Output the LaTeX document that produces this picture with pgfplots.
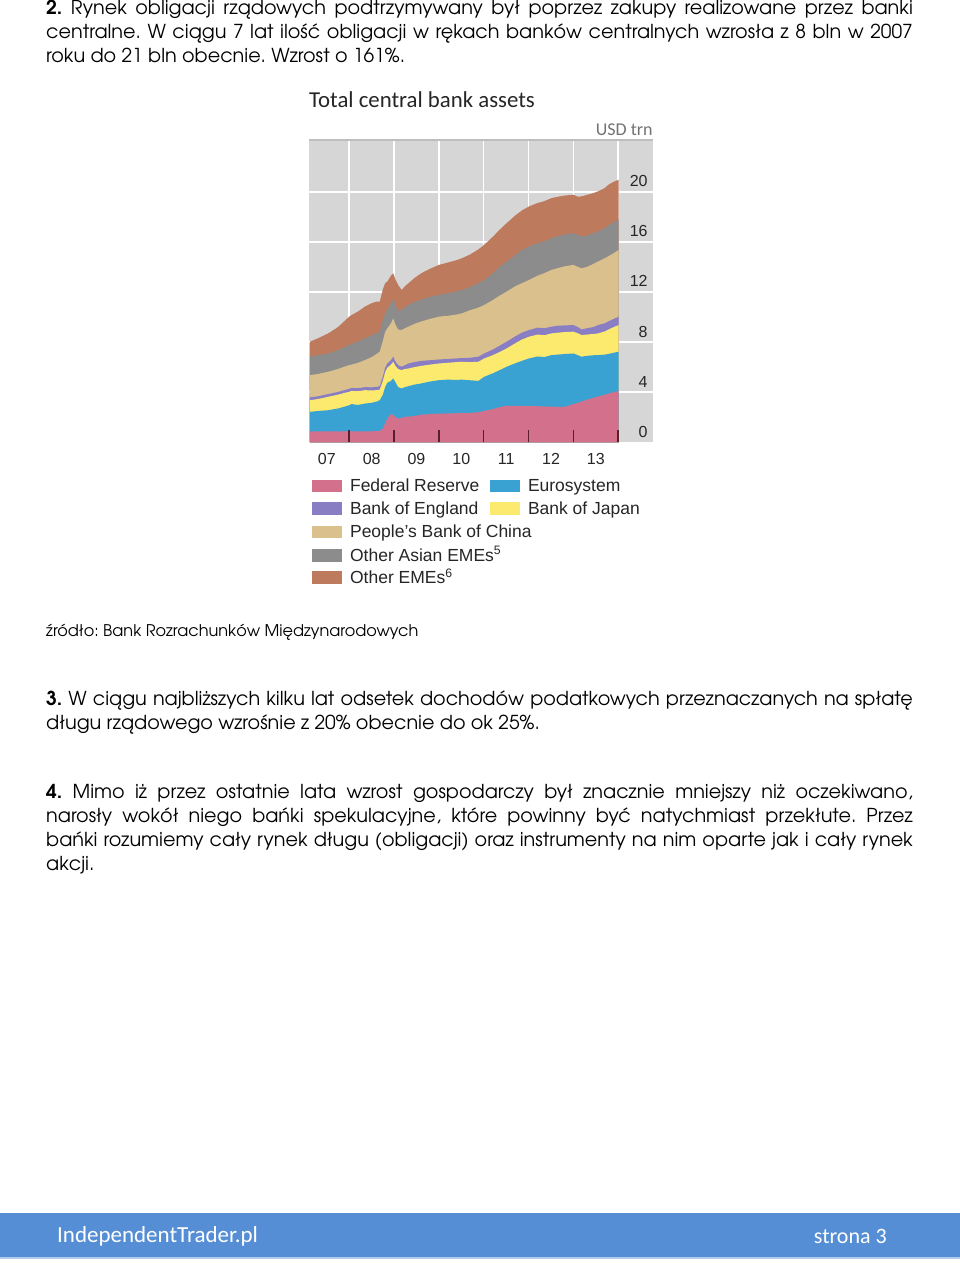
\documentclass[border=0pt]{standalone}
\usepackage{fontspec}
\setmainfont{texgyreadventor-regular.otf}[BoldFont=texgyreadventor-bold.otf]
\newfontfamily\chartfont{Liberation Sans}
\newfontfamily\calib{Carlito}
\usepackage{pgfplots}
\usepackage{pgfplotstable}
\pgfplotsset{compat=1.18}
\frenchspacing

\definecolor{fedc}{RGB}{211,113,140}
\definecolor{euroc}{RGB}{58,162,210}
\definecolor{boec}{RGB}{137,125,196}
\definecolor{bojc}{RGB}{252,234,110}
\definecolor{pbocc}{RGB}{217,192,141}
\definecolor{asiac}{RGB}{140,140,140}
\definecolor{emec}{RGB}{190,122,92}
\definecolor{bgc}{RGB}{214,214,214}
\definecolor{topc}{RGB}{190,190,190}
\definecolor{tickc}{RGB}{90,30,45}
\definecolor{footc}{RGB}{85,142,213}

% cumulative (stacked) tops of each layer, USD trn
\pgfplotstableread{
t       fed   euro  boj   boe   pboc  asia  total
2007.12 0.88  2.43  3.36  3.58  5.36  6.83  8.03
2007.30 0.88  2.50  3.45  3.67  5.45  6.95  8.30
2007.53 0.88  2.56  3.63  3.85  5.63  7.09  8.69
2007.75 0.88  2.70  3.80  4.02  5.85  7.35  9.20
2007.90 0.88  2.85  3.95  4.17  6.05  7.60  9.70
2008.00 0.88  2.96  4.03  4.27  6.16  7.76  10.03
2008.05 0.88  3.05  4.10  4.34  6.20  7.85  10.15
2008.20 0.88  2.98  4.08  4.32  6.35  8.05  10.45
2008.35 0.88  3.09  4.16  4.40  6.56  8.29  10.83
2008.50 0.88  3.15  4.14  4.39  6.80  8.55  11.10
2008.61 0.89  3.25  4.16  4.42  7.05  8.70  11.23
2008.68 0.90  3.36  4.20  4.48  7.23  8.83  11.23
2008.75 1.10  3.80  4.90  5.25  8.10  9.70  12.20
2008.80 1.50  4.40  5.60  5.95  8.80  10.30 12.70
2008.85 1.90  4.75  5.95  6.30  9.10  10.60 12.83
2008.93 2.24  4.90  6.20  6.55  9.50  11.10 13.30
2008.98 2.20  5.10  6.43  6.83  9.89  11.49 13.49
2009.03 2.00  4.80  6.10  6.45  9.40  11.00 13.00
2009.09 1.90  4.40  5.85  6.15  9.00  10.50 12.56
2009.17 1.95  4.30  5.76  6.03  8.96  10.56 12.16
2009.24 2.03  4.40  5.85  6.15  9.10  10.80 12.45
2009.32 2.05  4.48  5.89  6.29  9.23  10.96 12.69
2009.45 2.10  4.60  6.00  6.40  9.45  11.20 13.10
2009.61 2.20  4.70  6.10  6.50  9.65  11.40 13.50
2009.80 2.25  4.85  6.20  6.55  9.85  11.60 13.85
2010.00 2.29  4.96  6.29  6.61  10.03 11.76 14.16
2010.20 2.30  5.00  6.35  6.65  10.10 11.90 14.35
2010.40 2.32  4.98  6.40  6.70  10.20 12.05 14.55
2010.51 2.33  5.00  6.43  6.72  10.29 12.16 14.69
2010.70 2.35  4.95  6.40  6.75  10.55 12.40 15.00
2010.88 2.40  4.90  6.43  6.83  10.75 12.70 15.40
2011.01 2.50  5.23  6.69  7.09  10.96 12.96 15.76
2011.20 2.65  5.50  6.95  7.40  11.35 13.50 16.40
2011.35 2.80  5.75  7.20  7.70  11.70 14.00 16.95
2011.51 2.92  6.03  7.49  8.03  12.03 14.43 17.49
2011.70 2.90  6.30  7.90  8.45  12.45 14.95 18.10
2011.85 2.90  6.50  8.20  8.75  12.70 15.35 18.50
2012.01 2.88  6.69  8.43  8.96  12.96 15.63 18.83
2012.20 2.88  6.85  8.60  9.15  13.30 15.90 19.10
2012.35 2.86  6.80  8.55  9.10  13.50 16.05 19.25
2012.51 2.85  6.96  8.69  9.23  13.76 16.29 19.49
2012.65 2.83  7.00  8.75  9.30  13.90 16.45 19.60
2012.81 2.83  7.05  8.80  9.33  14.05 16.60 19.70
2013.00 3.05  7.09  8.83  9.36  14.16 16.69 19.76
2013.10 3.15  6.95  8.70  9.20  14.00 16.55 19.60
2013.18 3.25  6.83  8.56  9.01  13.89 16.43 19.63
2013.30 3.40  6.90  8.60  9.10  14.00 16.50 19.75
2013.45 3.55  6.95  8.65  9.20  14.25 16.70 19.90
2013.55 3.65  6.96  8.69  9.36  14.43 16.83 20.03
2013.70 3.80  7.00  8.85  9.50  14.70 17.10 20.30
2013.78 3.88  7.05  9.00  9.65  14.85 17.30 20.56
2013.90 4.00  7.15  9.20  9.85  15.10 17.55 20.80
2014.01 4.10  7.23  9.36  10.03 15.36 17.81 20.96
}\cbdata

\newcommand\bodyfont{\fontsize{19.2}{24}\selectfont}

\begin{document}
\begin{tikzpicture}[x=1pt,y=1pt]
% page
\fill[white] (0pt,0pt) rectangle (960pt,-1263pt);

% ---------- body text ----------
\begin{scope}[every node/.style={inner sep=0pt, anchor=base west, text=black}]
\node at (46pt,-14pt) {\bodyfont\makebox[867pt][s]{\textbf{2.} Rynek obligacji rządowych podtrzymywany był poprzez zakupy realizowane przez banki}};
\node at (46pt,-38pt) {\bodyfont\makebox[867pt][s]{centralne. W ciągu 7 lat ilość obligacji w rękach banków centralnych wzrosła z 8 bln w 2007}};
\node at (46pt,-62pt) {\bodyfont roku do 21 bln obecnie. Wzrost o 161\%.};

\node at (46pt,-636pt) {\fontsize{16.1}{20}\selectfont źródło: Bank Rozrachunków Międzynarodowych};

\node at (46pt,-705pt) {\bodyfont\makebox[867pt][s]{\textbf{3.} W ciągu najbliższych kilku lat odsetek dochodów podatkowych przeznaczanych na spłatę}};
\node at (46pt,-729pt) {\bodyfont długu rządowego wzrośnie z 20\% obecnie do ok 25\%.};

\node at (46pt,-798pt) {\bodyfont\makebox[867pt][s]{\textbf{4.} Mimo iż przez ostatnie lata wzrost gospodarczy był znacznie mniejszy niż oczekiwano,}};
\node at (46pt,-822pt) {\bodyfont\makebox[867pt][s]{narosły wokół niego bańki spekulacyjne, które powinny być natychmiast przekłute. Przez}};
\node at (46pt,-846pt) {\bodyfont\makebox[867pt][s]{bańki rozumiemy cały rynek długu (obligacji) oraz instrumenty na nim oparte jak i cały rynek}};
\node at (46pt,-870pt) {\bodyfont akcji.};
\end{scope}

% ---------- chart title ----------
\node[inner sep=0pt, anchor=base west, text=black!85] at (309pt,-107pt) {\calib\fontsize{22.8}{26}\selectfont Total central bank assets};
\node[inner sep=0pt, anchor=base east, text=black!55] at (653pt,-135pt) {\calib\fontsize{18}{20}\selectfont USD trn};

% ---------- chart ----------
\begin{axis}[
  at={(309pt,-442pt)}, anchor=south west,
  scale only axis, width=344pt, height=302pt,
  xmin=2007.10, xmax=2014.77, ymin=0, ymax=24.1,
  xtick={2008,...,2014}, ytick={0,4,...,20},
  xticklabels={}, yticklabels={},
  major tick length=0pt,
  grid=major, major grid style={white, line width=1.5pt},
  axis line style={draw=none},
  axis background/.style={fill=bgc},
]
\addplot[fill=emec, draw=none] table[x=t,y=total]{\cbdata} \closedcycle;
\addplot[fill=asiac, draw=none] table[x=t,y=asia]{\cbdata} \closedcycle;
\addplot[fill=pbocc, draw=none] table[x=t,y=pboc]{\cbdata} \closedcycle;
\addplot[fill=boec, draw=none] table[x=t,y=boe]{\cbdata} \closedcycle;
\addplot[fill=bojc, draw=none] table[x=t,y=boj]{\cbdata} \closedcycle;
\addplot[fill=euroc, draw=none] table[x=t,y=euro]{\cbdata} \closedcycle;
\addplot[fill=fedc, draw=none] table[x=t,y=fed]{\cbdata} \closedcycle;
\end{axis}

% overlay axis: ticks and labels on top
\begin{axis}[
  at={(309pt,-442pt)}, anchor=south west,
  scale only axis, width=344pt, height=302pt,
  xmin=2007.10, xmax=2014.77, ymin=0, ymax=24.1,
  axis line style={draw=none},
  xtick={2008,...,2014}, xticklabels={},
  tick align=inside, xtick pos=lower, major tick length=12pt,
  xtick style={draw=tickc, line width=1.5pt},
  extra x ticks={2007.5,2008.5,2009.5,2010.5,2011.5,2012.5,2013.5},
  extra x tick labels={07,08,09,10,11,12,13},
  extra x tick style={major tick length=0pt, grid=none,
     xticklabel style={anchor=base, inner sep=0pt, yshift=-22pt}},
  xticklabel style={font=\chartfont\fontsize{16}{18}\selectfont, text=black!85},
  ytick={0,4,...,20}, yticklabel pos=right,
  ytick style={draw=none},
  /pgf/number format/assume math mode=true,
  yticklabel style={anchor=base east, inner sep=0pt, xshift=-5pt, yshift=5pt,
     font=\chartfont\fontsize{16}{18}\selectfont, text=black!85},
]
\addplot[draw=none] coordinates {(2008,0)};
\end{axis}
\draw[topc, line width=2pt] (309pt,-140pt) -- (653pt,-140pt);

% ---------- legend ----------
\begin{scope}[every node/.style={inner sep=0pt, anchor=base west, text=black!85, font=\chartfont\fontsize{17.5}{20}\selectfont}]
\fill[fedc]  (312pt,-479.5pt) rectangle (342pt,-492pt);
\node at (350pt,-491.7pt) {Federal Reserve};
\fill[euroc] (490pt,-479.5pt) rectangle (520pt,-492pt);
\node at (528pt,-491.7pt) {Eurosystem};
\fill[boec]  (312pt,-502pt) rectangle (342pt,-514.5pt);
\node at (350pt,-514.3pt) {Bank of England};
\fill[bojc]  (490pt,-502pt) rectangle (520pt,-514.5pt);
\node at (528pt,-514.3pt) {Bank of Japan};
\fill[pbocc] (312pt,-525.5pt) rectangle (342pt,-538pt);
\node at (350pt,-537.7pt) {People’s Bank of China};
\fill[asiac] (312pt,-549pt) rectangle (342pt,-561.5pt);
\node at (350pt,-561pt) {Other Asian EMEs\textsuperscript{5}};
\fill[emec]  (312pt,-571pt) rectangle (342pt,-583.5pt);
\node at (350pt,-583.3pt) {Other EMEs\textsuperscript{6}};
\end{scope}

% ---------- footer ----------
\fill[footc] (0pt,-1213pt) rectangle (960pt,-1257pt);
\fill[footc!45] (0pt,-1257pt) rectangle (960pt,-1259pt);
\node[inner sep=0pt, anchor=base west, text=white] at (57pt,-1242pt) {\calib\fontsize{23}{26}\selectfont IndependentTrader.pl};
\node[inner sep=0pt, anchor=base west, text=white] at (814pt,-1243pt) {\calib\fontsize{22}{26}\selectfont strona 3};
\end{tikzpicture}
\end{document}
